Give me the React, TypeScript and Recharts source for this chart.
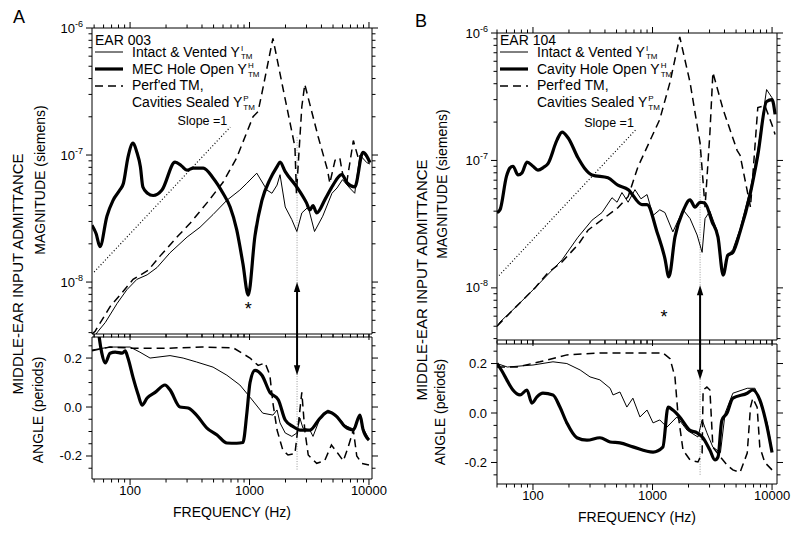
import React from 'react';
import { LineChart, Line, XAxis, YAxis, ReferenceLine, ReferenceDot, Legend } from 'recharts';

type Pt = [number, number];

const FONT = '"Liberation Sans", Arial, Helvetica, sans-serif';
const INK = '#000';

// axis ticks
const freqTicks = [
  50, 60, 70, 80, 90, 100, 200, 300, 400, 500, 600, 700, 800, 900,
  1000, 2000, 3000, 4000, 5000, 6000, 7000, 8000, 9000, 10000,
];
const magTicks = [
  4e-9, 5e-9, 6e-9, 7e-9, 8e-9, 9e-9,
  1e-8, 2e-8, 3e-8, 4e-8, 5e-8, 6e-8, 7e-8, 8e-8, 9e-8,
  1e-7, 2e-7, 3e-7, 4e-7, 5e-7, 6e-7, 7e-7, 8e-7, 9e-7,
  1e-6,
];
const angleTicks = [-0.25, -0.2, -0.15, -0.1, -0.05, 0, 0.05, 0.1, 0.15, 0.2, 0.25];
const angleLabels = [-0.2, 0, 0.2];

// ---- EAR 003 (panel A) ----
const aMagIntact: Pt[] = [
  [50, 3.7e-9], [54, 4.1e-9], [62, 4.8e-9], [78, 6.8e-9], [94, 8.7e-9], [114, 1.05e-8],
  [139, 1.14e-8], [168, 1.3e-8], [216, 1.7e-8], [300, 2.26e-8], [385, 2.7e-8], [495, 3.4e-8],
  [646, 4.4e-8], [830, 5.3e-8], [950, 6.0e-8], [1150, 7.2e-8], [1400, 5.3e-8], [1540, 5.0e-8],
  [1700, 5.8e-8], [1800, 7.0e-8], [1990, 3.9e-8], [2260, 3.1e-8], [2490, 2.5e-8], [2740, 3.5e-8],
  [3100, 3.9e-8], [3500, 2.5e-8], [4100, 3.3e-8], [4900, 5.0e-8], [5400, 5.5e-8], [6000, 6.4e-8],
  [6900, 5.5e-8], [7600, 5.0e-8], [8400, 1.0e-7], [9600, 8.7e-8], [10200, 8.5e-8],
];
const aMagHole: Pt[] = [
  [48, 2.8e-8], [52, 2.4e-8], [56, 1.9e-8], [64, 3.3e-8], [72, 4.4e-8], [82, 5.3e-8],
  [88, 6.0e-8], [96, 9.6e-8], [106, 1.24e-7], [114, 1.05e-7], [122, 8.1e-8], [128, 5.6e-8],
  [140, 5.0e-8], [156, 4.8e-8], [185, 5.3e-8], [238, 8.8e-8], [270, 8.2e-8], [300, 7.6e-8],
  [338, 7.9e-8], [410, 7.9e-8], [495, 6.6e-8], [600, 5.0e-8], [688, 3.9e-8], [780, 2.6e-8],
  [880, 1.4e-8], [975, 7.9e-9], [1110, 2.3e-8], [1270, 4.4e-8], [1480, 6.4e-8], [1700, 8.1e-8],
  [1800, 8.8e-8], [1990, 7.4e-8], [2490, 5.6e-8], [3000, 4.2e-8], [3200, 3.7e-8], [3400, 4.0e-8],
  [3650, 3.5e-8], [4300, 4.5e-8], [5000, 5.8e-8], [5900, 7.0e-8], [6600, 6.0e-8], [7600, 5.6e-8],
  [8900, 1.05e-7], [10200, 8.7e-8],
];
const aMagPerf: Pt[] = [
  [48, 3.9e-9], [51, 4.1e-9], [68, 6.4e-9], [87, 8.4e-9], [106, 1.05e-8], [142, 1.24e-8],
  [178, 1.6e-8], [247, 2.26e-8], [318, 2.9e-8], [440, 4.2e-8], [600, 6.1e-8], [780, 9.5e-8],
  [1070, 2.0e-7], [1180, 2.2e-7], [1290, 3.3e-7], [1570, 8.3e-7], [1900, 3.4e-7], [2400, 1.16e-7],
  [2470, 5.0e-8], [2740, 2.4e-7], [2900, 3.6e-7], [3750, 1.4e-7], [4500, 7.6e-8], [4700, 6.0e-8],
  [5200, 9.1e-8], [5700, 9.5e-8], [6000, 7.2e-8], [6500, 6.0e-8], [7400, 1.3e-7], [8100, 9.6e-8],
  [8900, 1.05e-7], [10200, 9.0e-8],
];
const aSlope: Pt[] = [[50, 1.2e-8], [690, 1.66e-7]];

const aAngIntact: Pt[] = [
  [48, 0.233], [68, 0.245], [100, 0.245], [121, 0.224], [147, 0.2], [216, 0.21], [278, 0.2],
  [360, 0.184], [495, 0.163], [646, 0.13], [830, 0.09], [1010, 0.04], [1290, -0.025],
  [1570, -0.033], [1700, -0.012], [1800, -0.065], [1990, -0.106], [2260, -0.12], [2490, -0.106],
  [2640, -0.045], [2800, -0.086], [3200, -0.094], [3400, -0.12], [3900, -0.045], [4520, -0.012],
  [5400, -0.035], [6300, -0.075], [7400, -0.09], [8400, -0.03], [8900, -0.085], [10000, -0.13],
];
const aAngHole: Pt[] = [
  [50, 0.5], [55, 0.29], [58, 0.22], [62, 0.18], [68, 0.22], [75, 0.224], [86, 0.22], [91, 0.229],
  [96, 0.2], [106, 0.12], [117, 0.05], [126, 0.008], [139, 0.037], [162, 0.06], [196, 0.09],
  [216, 0.07], [262, 0.0], [306, -0.004], [360, -0.033], [440, -0.086], [535, -0.114],
  [646, -0.147], [780, -0.148], [880, -0.145], [950, -0.025], [1010, 0.1], [1110, 0.15],
  [1270, 0.13], [1480, 0.06], [1740, 0.03], [1990, -0.053], [2320, -0.08], [2640, -0.094],
  [3200, -0.094], [3900, -0.045], [4520, -0.02], [5400, -0.04], [6300, -0.08], [7400, -0.094],
  [8400, -0.033], [8900, -0.09], [10000, -0.135],
];
const aAngPerf: Pt[] = [
  [48, 0.23], [68, 0.245], [106, 0.24], [200, 0.24], [400, 0.245], [730, 0.242], [1010, 0.2],
  [1180, 0.17], [1350, 0.18], [1480, 0.13], [1570, 0.016], [1700, -0.094], [1900, -0.176],
  [2100, -0.196], [2400, -0.19], [2550, -0.08], [2740, 0.06], [2900, -0.094], [3100, -0.196],
  [3650, -0.23], [4250, -0.22], [4850, -0.155], [5500, -0.19], [6100, -0.22], [6700, -0.163],
  [7400, -0.094], [7900, -0.2], [8700, -0.23], [10000, -0.237],
];

// ---- EAR 104 (panel B) ----
const bMagIntact: Pt[] = [
  [50, 5.0e-9], [53, 5.4e-9], [71, 7.0e-9], [104, 1.0e-8], [175, 1.66e-8], [238, 2.5e-8],
  [312, 3.4e-8], [378, 3.9e-8], [458, 5.1e-8], [505, 4.7e-8], [555, 5.6e-8], [625, 4.7e-8],
  [713, 5.9e-8], [800, 5.0e-8], [900, 5.4e-8], [1010, 3.7e-8], [1150, 4.1e-8], [1270, 3.9e-8],
  [1480, 2.75e-8], [1800, 4.1e-8], [2060, 3.5e-8], [2360, 2.6e-8], [2600, 1.9e-8], [2750, 3.5e-8],
  [3020, 4.0e-8], [3470, 2.8e-8], [3900, 1.3e-8], [4260, 1.8e-8], [4700, 2.0e-8], [5400, 2.9e-8],
  [6600, 6.0e-8], [7600, 1.2e-7], [9000, 3.6e-7], [10000, 3.1e-7], [10600, 2.4e-7],
];
const bMagHole: Pt[] = [
  [50, 3.9e-8], [53, 4.1e-8], [60, 7.5e-8], [64, 8.7e-8], [68, 9.0e-8], [75, 7.7e-8],
  [81, 8.0e-8], [89, 9.7e-8], [100, 9.0e-8], [110, 8.4e-8], [122, 8.8e-8], [134, 9.5e-8],
  [159, 1.45e-7], [175, 1.67e-7], [197, 1.5e-7], [238, 1.05e-7], [270, 8.7e-8], [312, 7.7e-8],
  [424, 7.3e-8], [513, 6.4e-8], [625, 5.9e-8], [815, 4.5e-8], [900, 4.5e-8], [1090, 2.75e-8],
  [1270, 1.7e-8], [1370, 1.22e-8], [1540, 2.5e-8], [1800, 4.0e-8], [2060, 4.9e-8], [2270, 4.3e-8],
  [2500, 4.7e-8], [2750, 4.6e-8], [3150, 3.3e-8], [3530, 2.5e-8], [3900, 1.26e-8], [4260, 1.8e-8],
  [4700, 1.9e-8], [5400, 2.75e-8], [6600, 5.6e-8], [7600, 1.1e-7], [9000, 2.9e-7], [10000, 3.0e-7],
  [10600, 2.3e-7],
];
const bMagPerf: Pt[] = [
  [50, 5.0e-9], [71, 7.0e-9], [104, 1.0e-8], [134, 1.32e-8], [175, 1.6e-8], [240, 2.2e-8],
  [290, 2.85e-8], [513, 4.25e-8], [625, 5.2e-8], [755, 8.9e-8], [1150, 2.1e-7], [1400, 4.1e-7],
  [1690, 9.3e-7], [2060, 4.1e-7], [2500, 1.37e-7], [2750, 4.3e-8], [3020, 1.63e-7], [3200, 4.9e-7],
  [3900, 2.5e-7], [5100, 1.2e-7], [5400, 1.1e-7], [6600, 4.3e-8], [7600, 2.6e-7], [8700, 2.7e-7],
  [10000, 1.9e-7], [10600, 1.6e-7],
];
const bSlope: Pt[] = [[52, 1.25e-8], [740, 1.78e-7]];

const bAngIntact: Pt[] = [
  [50, 0.2], [61, 0.186], [100, 0.194], [147, 0.207], [192, 0.2], [248, 0.174], [300, 0.146],
  [363, 0.134], [442, 0.1], [467, 0.073], [534, 0.085], [610, 0.024], [685, 0.06], [785, -0.016],
  [900, 0.012], [1010, -0.04], [1150, -0.028], [1320, -0.057], [1600, -0.016], [1950, -0.07],
  [2400, -0.097], [2600, -0.028], [2850, -0.08], [3200, -0.138], [3700, -0.16], [4050, 0.0],
  [4700, 0.08], [6200, 0.1], [7200, 0.1], [9100, -0.04], [10000, -0.15],
];
const bAngHole: Pt[] = [
  [50, 0.2], [55, 0.17], [61, 0.13], [68, 0.093], [78, 0.073], [89, 0.093], [98, 0.04],
  [108, 0.065], [121, 0.08], [147, 0.073], [168, 0.024], [192, -0.04], [233, -0.1], [283, -0.11],
  [363, -0.1], [442, -0.117], [534, -0.121], [685, -0.137], [1010, -0.158], [1220, -0.138],
  [1350, 0.024], [1480, 0.012], [1690, -0.016], [2060, -0.07], [2360, -0.08], [2640, -0.1],
  [3020, -0.15], [3330, -0.19], [3530, -0.178], [3800, -0.03], [4200, 0.0], [4700, 0.06],
  [6200, 0.08], [6900, 0.093], [7900, 0.053], [9100, -0.057], [10000, -0.16],
];
const bAngPerf: Pt[] = [
  [50, 0.186], [73, 0.186], [114, 0.207], [192, 0.235], [363, 0.243], [1220, 0.243], [1400, 0.22],
  [1540, 0.146], [1630, 0.0], [1800, -0.15], [2060, -0.19], [2400, -0.198], [2600, -0.162],
  [2650, 0.093], [2850, 0.105], [3020, 0.093], [3200, -0.138], [3700, -0.178], [4200, -0.21],
  [4700, -0.23], [5400, -0.24], [6200, -0.162], [6600, 0.024], [6900, 0.06], [7500, 0.024],
  [7900, -0.138], [8700, -0.2], [10000, -0.23],
];

const rows = (a: Pt[]) => a.map(([f, v]) => ({ f, v }));
const isDecade = (v: number) => Math.abs(Math.log10(v) - Math.round(Math.log10(v))) < 1e-6;

const freqTick = (side: 'top' | 'bottom', labelled: boolean) => (p: any) => {
  const { x, y, payload } = p;
  const major = isDecade(payload.value);
  const d = side === 'top' ? -1 : 1;
  return (
    <g>
      <line x1={x} x2={x} y1={y} y2={y + d * (major ? 6 : 3.5)} stroke={INK} />
      {labelled && major ? (
        <text x={x} y={y + 16} textAnchor="middle" fontSize={13} fontFamily={FONT} fill={INK}>
          {payload.value}
        </text>
      ) : null}
    </g>
  );
};

const magTick = (side: 'left' | 'right') => (p: any) => {
  const { x, y, payload } = p;
  const major = isDecade(payload.value);
  const d = side === 'left' ? -1 : 1;
  return (
    <g>
      <line x1={x} x2={x + d * (major ? 6 : 3.5)} y1={y} y2={y} stroke={INK} />
      {side === 'left' && major ? (
        <text x={x - 9} y={y + 4.5} textAnchor="end" fontSize={13} fontFamily={FONT} fill={INK}>
          <tspan>10</tspan>
          <tspan dy={-6} fontSize={9}>{Math.round(Math.log10(payload.value))}</tspan>
        </text>
      ) : null}
    </g>
  );
};

const angleTick = (side: 'left' | 'right') => (p: any) => {
  const { x, y, payload } = p;
  const labelled = angleLabels.some((l) => Math.abs(l - payload.value) < 1e-9);
  const d = side === 'left' ? -1 : 1;
  return (
    <g>
      <line x1={x} x2={x + d * (labelled ? 6 : 3.5)} y1={y} y2={y} stroke={INK} />
      {side === 'left' && labelled ? (
        <text x={x - 10} y={y + 4.5} textAnchor="end" fontSize={13} fontFamily={FONT} fill={INK}>
          {payload.value.toFixed(1)}
        </text>
      ) : null}
    </g>
  );
};

// first point of the segment is the arrow tip
const arrowShape = (p: any) => {
  const { x1, y1, x2, y2 } = p;
  const d = y2 > y1 ? 1 : -1;
  return (
    <g>
      <line x1={x1} y1={y1 + d * 4} x2={x2} y2={y2} stroke={INK} strokeWidth={2} />
      <path d={`M${x1},${y1} L${x1 - 3.2},${y1 + d * 10} L${x1 + 3.2},${y1 + d * 10} Z`} fill={INK} />
    </g>
  );
};

const starShape = (p: any) => (
  <text x={p.cx} y={p.cy + 9.5} textAnchor="middle" fontSize={18} fontFamily={FONT} fill={INK}>
    *
  </text>
);

const slopeShape = (p: any) => (
  <text x={p.cx - 3} y={p.cy - 2} textAnchor="end" fontSize={12.5} fontFamily={FONT} fill={INK}>
    Slope =1
  </text>
);

// Y with stacked superscript and "TM" subscript
function YTM({ sup }: { sup: string }) {
  return (
    <>
      Y
      <span style={{ display: 'inline-block', position: 'relative', width: 14, height: 14, verticalAlign: 'top' }}>
        <span style={{ position: 'absolute', left: 1, top: 0, fontSize: 8, lineHeight: '8px' }}>{sup}</span>
        <span style={{ position: 'absolute', left: 1, top: 8.5, fontSize: 8, lineHeight: '8px' }}>TM</span>
      </span>
    </>
  );
}

function Swatch({ top, width, dash }: { top: number; width: number; dash?: string }) {
  return (
    <svg width={29} height={10} style={{ position: 'absolute', left: 0, top: top - 5 }}>
      <line x1={0} x2={28} y1={5} y2={5} stroke={INK} strokeWidth={width} strokeDasharray={dash} />
    </svg>
  );
}

function LegendBox({ ear, holeName, holeSup }: { ear: string; holeName: string; holeSup: string }) {
  const t = (top: number): React.CSSProperties => ({ position: 'absolute', left: 37, top });
  return (
    <div
      style={{
        position: 'relative', width: 200, height: 80, fontFamily: FONT, fontSize: 14,
        lineHeight: '14px', color: INK, whiteSpace: 'nowrap',
      }}
    >
      <div style={{ position: 'absolute', left: 0, top: 2 }}>{ear}</div>
      <Swatch top={21.3} width={1} />
      <div style={t(13.7)}>Intact &amp; Vented <YTM sup="I" /></div>
      <Swatch top={38} width={3.2} />
      <div style={t(31)}>{holeName} <YTM sup={holeSup} /></div>
      <Swatch top={54.7} width={1.5} dash="8 5" />
      <div style={t(47.3)}>Perf'ed TM,</div>
      <div style={t(64)}>Cavities Sealed <YTM sup="P" /></div>
    </div>
  );
}

const W = 392;
const LEFT_W = 92;
const RIGHT_W = 20;
const MAG_DOMAIN: [number, number] = [3.9e-9, 1e-6];

interface MagProps {
  left: number; height: number; padTop: number; xDomain: [number, number];
  intact: Pt[]; hole: Pt[]; perf: Pt[]; slope: Pt[];
  ear: string; holeName: string; markF: number; markTop: number; arrowTip: number; star: Pt;
}

function MagChart(p: MagProps) {
  return (
    <div style={{ position: 'absolute', left: p.left, top: 0 }}>
      <LineChart width={W} height={p.height} margin={{ top: 0, right: 0, bottom: 0, left: 0 }}>
        <XAxis dataKey="f" type="number" scale="log" domain={p.xDomain} allowDataOverflow ticks={freqTicks}
          interval={0} height={6} tickSize={0} tickMargin={0} tickLine={false} stroke={INK}
          tick={freqTick('bottom', false)} />
        <XAxis xAxisId="t" orientation="top" dataKey="f" type="number" scale="log" domain={p.xDomain}
          allowDataOverflow ticks={freqTicks} interval={0} height={p.padTop} tickSize={0} tickMargin={0}
          tickLine={false} stroke={INK} tick={freqTick('top', false)} />
        <YAxis type="number" scale="log" domain={MAG_DOMAIN} allowDataOverflow ticks={magTicks} interval={0}
          width={LEFT_W} tickSize={0} tickMargin={0} tickLine={false} stroke={INK} tick={magTick('left')} />
        <YAxis yAxisId="r" orientation="right" type="number" scale="log" domain={MAG_DOMAIN} allowDataOverflow
          ticks={magTicks} interval={0} width={RIGHT_W} tickSize={0} tickMargin={0} tickLine={false}
          stroke={INK} tick={magTick('right')} />
        <Legend layout="vertical" align="center" verticalAlign="middle"
          wrapperStyle={{ left: 95, top: 31, width: 200, height: 80 }}
          content={() => <LegendBox ear={p.ear} holeName={p.holeName} holeSup="H" />} />
        <ReferenceLine segment={[{ x: p.markF, y: p.markTop }, { x: p.markF, y: 3.7e-9 }]} stroke="#999"
          strokeDasharray="1 1.5" ifOverflow="visible" />
        <Line data={rows(p.slope)} dataKey="v" name="slope" type="linear" stroke={INK} strokeWidth={1.2}
          strokeDasharray="1 2.2" dot={false} isAnimationActive={false} />
        <Line data={rows(p.perf)} dataKey="v" name="perf" type="linear" stroke={INK} strokeWidth={1.5}
          strokeDasharray="8 5" dot={false} isAnimationActive={false} />
        <Line data={rows(p.intact)} dataKey="v" name="intact" type="linear" stroke={INK} strokeWidth={1}
          dot={false} isAnimationActive={false} />
        <Line data={rows(p.hole)} dataKey="v" name="hole" type="monotone" stroke={INK} strokeWidth={3.2}
          dot={false} isAnimationActive={false} />
        <ReferenceLine segment={[{ x: p.markF, y: p.arrowTip }, { x: p.markF, y: 3.7e-9 }]} ifOverflow="visible"
          shape={arrowShape} />
        <ReferenceDot x={p.star[0]} y={p.star[1]} r={0} shape={starShape} />
        <ReferenceDot x={p.slope[1][0]} y={p.slope[1][1]} r={0} shape={slopeShape} />
      </LineChart>
    </div>
  );
}

interface AngProps {
  left: number; top: number; height: number; padTop: number; padBottom: number;
  xDomain: [number, number]; yDomain: [number, number];
  intact: Pt[]; hole: Pt[]; perf: Pt[]; markF: number; markBottom: number; arrowTip: number;
}

function AngleChart(p: AngProps) {
  return (
    <div style={{ position: 'absolute', left: p.left, top: p.top }}>
      <LineChart width={W} height={p.height} margin={{ top: 0, right: 0, bottom: 0, left: 0 }}>
        <XAxis dataKey="f" type="number" scale="log" domain={p.xDomain} allowDataOverflow ticks={freqTicks}
          interval={0} height={p.padBottom} tickSize={0} tickMargin={0} tickLine={false} stroke={INK}
          tick={freqTick('bottom', true)}
          label={({ viewBox }: any) => (
            <text x={viewBox.x + viewBox.width / 2} y={viewBox.y + 38} textAnchor="middle" fontSize={14}
              fontFamily={FONT} fill={INK}>
              FREQUENCY (Hz)
            </text>
          )} />
        <XAxis xAxisId="t" orientation="top" dataKey="f" type="number" scale="log" domain={p.xDomain}
          allowDataOverflow ticks={freqTicks} interval={0} height={p.padTop} tickSize={0} tickMargin={0}
          tickLine={false} stroke={INK} tick={freqTick('top', false)} />
        <YAxis type="number" domain={p.yDomain} allowDataOverflow ticks={angleTicks} interval={0}
          width={LEFT_W} tickSize={0} tickMargin={0} tickLine={false} stroke={INK} tick={angleTick('left')} />
        <YAxis yAxisId="r" orientation="right" type="number" domain={p.yDomain} allowDataOverflow
          ticks={angleTicks} interval={0} width={RIGHT_W} tickSize={0} tickMargin={0} tickLine={false}
          stroke={INK} tick={angleTick('right')} />
        <ReferenceLine segment={[{ x: p.markF, y: 0.3 }, { x: p.markF, y: p.markBottom }]} stroke="#999"
          strokeDasharray="1 1.5" ifOverflow="visible" />
        <Line data={rows(p.perf)} dataKey="v" name="perf" type="linear" stroke={INK} strokeWidth={1.5}
          strokeDasharray="8 5" dot={false} isAnimationActive={false} />
        <Line data={rows(p.intact)} dataKey="v" name="intact" type="linear" stroke={INK} strokeWidth={1}
          dot={false} isAnimationActive={false} />
        <Line data={rows(p.hole)} dataKey="v" name="hole" type="monotone" stroke={INK} strokeWidth={3.2}
          dot={false} isAnimationActive={false} />
        <ReferenceLine segment={[{ x: p.markF, y: p.arrowTip }, { x: p.markF, y: 0.31 }]} ifOverflow="visible"
          shape={arrowShape} />
      </LineChart>
    </div>
  );
}

function Titles() {
  const rot = (cx: number, cy: number, size: number, text: string) => {
    const bx = cx + size * 0.36;
    return (
      <text x={bx} y={cy} transform={`rotate(-90 ${bx} ${cy})`} textAnchor="middle" fontSize={size}
        fontFamily={FONT} fill={INK}>
        {text}
      </text>
    );
  };
  return (
    <svg width={800} height={534} style={{ position: 'absolute', left: 0, top: 0, pointerEvents: 'none' }}>
      <text x={13} y={23} fontSize={18} fontFamily={FONT} fill={INK}>A</text>
      <text x={415} y={27} fontSize={18} fontFamily={FONT} fill={INK}>B</text>
      {rot(17.5, 274, 15, 'MIDDLE-EAR INPUT ADMITTANCE')}
      {rot(40, 180, 14, 'MAGNITUDE (siemens)')}
      {rot(38, 410, 14, 'ANGLE (periods)')}
      {rot(422, 280, 15, 'MIDDLE-EAR INPUT ADMITTANCE')}
      {rot(442, 184, 14, 'MAGNITUDE (siemens)')}
      {rot(440, 412, 14, 'ANGLE (periods)')}
    </svg>
  );
}

export default function App() {
  return (
    <div style={{ position: 'absolute', left: 0, top: 0, width: 800, height: 534, background: '#fff', overflow: 'hidden' }}>
      <MagChart left={0} height={340} padTop={28} xDomain={[48, 10600]} intact={aMagIntact} hole={aMagHole}
        perf={aMagPerf} slope={aSlope} ear="EAR 003" holeName="MEC Hole Open" markF={2500} markTop={1.38e-7}
        arrowTip={1e-8} star={[975, 6.5e-9]} />
      <AngleChart left={0} top={334} height={200} padTop={3} padBottom={55} xDomain={[48, 10600]}
        yDomain={[-0.294, 0.286]} intact={aAngIntact} hole={aAngHole} perf={aAngPerf} markF={2500}
        markBottom={-0.257} arrowTip={0.13} />
      <MagChart left={405} height={346} padTop={33} xDomain={[50, 11000]} intact={bMagIntact} hole={bMagHole}
        perf={bMagPerf} slope={bSlope} ear="EAR 104" holeName="Cavity Hole Open" markF={2500} markTop={1.4e-7}
        arrowTip={1.05e-8} star={[1250, 6.25e-9]} />
      <AngleChart left={405} top={340} height={194} padTop={4} padBottom={50} xDomain={[50, 11000]}
        yDomain={[-0.287, 0.279]} intact={bAngIntact} hole={bAngHole} perf={bAngPerf} markF={2500}
        markBottom={-0.25} arrowTip={0.134} />
      <Titles />
    </div>
  );
}
